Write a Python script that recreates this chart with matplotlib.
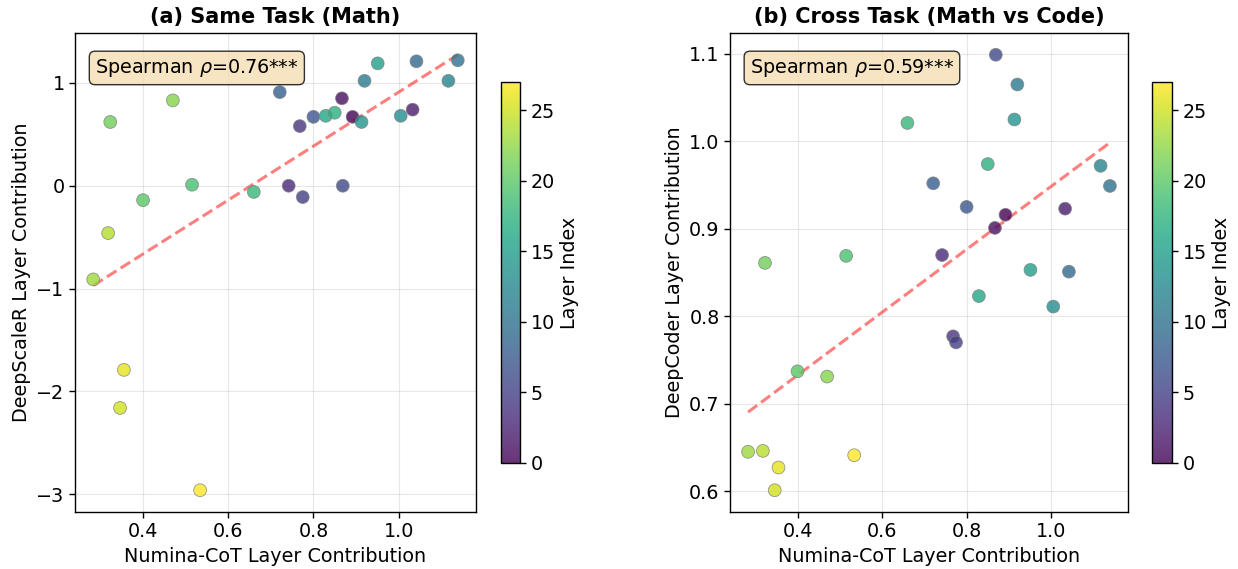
import matplotlib
matplotlib.use("Agg")
import matplotlib.pyplot as plt
import numpy as np

# per-layer values, layer index 0..27
layers = np.arange(28)
numina = [0.892, 0.867, 1.033, 0.742, 0.768, 0.775, 0.869, 0.800, 0.721, 1.042,
          1.139, 0.920, 1.117, 1.005, 0.913, 0.951, 0.829, 0.850, 0.660, 0.515,
          0.400, 0.323, 0.470, 0.283, 0.318, 0.346, 0.355, 0.534]
deepscaler = [0.67, 0.85, 0.74, 0.00, 0.58, -0.11, 0.00, 0.67, 0.91, 1.21,
              1.22, 1.02, 1.02, 0.68, 0.62, 1.19, 0.68, 0.71, -0.06, 0.01,
              -0.14, 0.62, 0.83, -0.91, -0.46, -2.16, -1.79, -2.96]
deepcoder = [0.916, 0.901, 0.923, 0.870, 0.777, 0.770, 1.099, 0.925, 0.952, 0.851,
             0.949, 1.065, 0.972, 0.811, 1.025, 0.853, 0.823, 0.974, 1.021, 0.869,
             0.737, 0.861, 0.731, 0.645, 0.646, 0.601, 0.627, 0.641]

panels = [
    ("(a) Same Task (Math)", deepscaler, "DeepScaleR Layer Contribution", "Spearman $\\rho$=0.76***"),
    ("(b) Cross Task (Math vs Code)", deepcoder, "DeepCoder Layer Contribution", "Spearman $\\rho$=0.59***"),
]

FS = 13.8
plt.rcParams["axes.linewidth"] = 1.0
plt.rcParams["xtick.major.width"] = 1.0
plt.rcParams["ytick.major.width"] = 1.0
plt.rcParams["xtick.major.size"] = 4
plt.rcParams["ytick.major.size"] = 4

W, H = 1238, 569
fig = plt.figure(figsize=(W / 100, H / 100), dpi=100)
ax_rects = [(75, 33, 401, 479), (730, 33, 398, 479)]
cb_rects = [(501, 82, 19, 381), (1152, 82, 20, 381)]

x = np.array(numina)
for (title, yvals, ylabel, stat), (l, t, w, h), (cl, ct, cw, ch) in zip(panels, ax_rects, cb_rects):
    ax = fig.add_axes([l / W, (H - t - h) / H, w / W, h / H])
    y = np.array(yvals)
    sc = ax.scatter(x, y, c=layers, cmap="viridis", vmin=0, vmax=27, s=85,
                    alpha=0.8, edgecolors="gray", linewidths=0.6, zorder=3)
    k, b = np.polyfit(x, y, 1)
    xs = np.linspace(x.min(), x.max(), 50)
    ax.plot(xs, k * xs + b, "r--", lw=2.2, alpha=0.5, zorder=2)
    ax.set_title(title, fontsize=15, fontweight="bold", pad=7)
    ax.set_xlabel("Numina-CoT Layer Contribution", fontsize=FS)
    ax.set_ylabel(ylabel, fontsize=FS)
    ax.tick_params(labelsize=FS)
    ax.grid(True, alpha=0.3)
    ax.text(0.05, 0.95, stat, transform=ax.transAxes, fontsize=FS, va="top",
            bbox=dict(boxstyle="round", facecolor="wheat", alpha=0.8))
    cax = fig.add_axes([cl / W, (H - ct - ch) / H, cw / W, ch / H])
    cb = fig.colorbar(sc, cax=cax)
    cb.set_label("Layer Index", fontsize=FS)
    cb.ax.tick_params(labelsize=FS)

fig.savefig("out.png", dpi=100)
